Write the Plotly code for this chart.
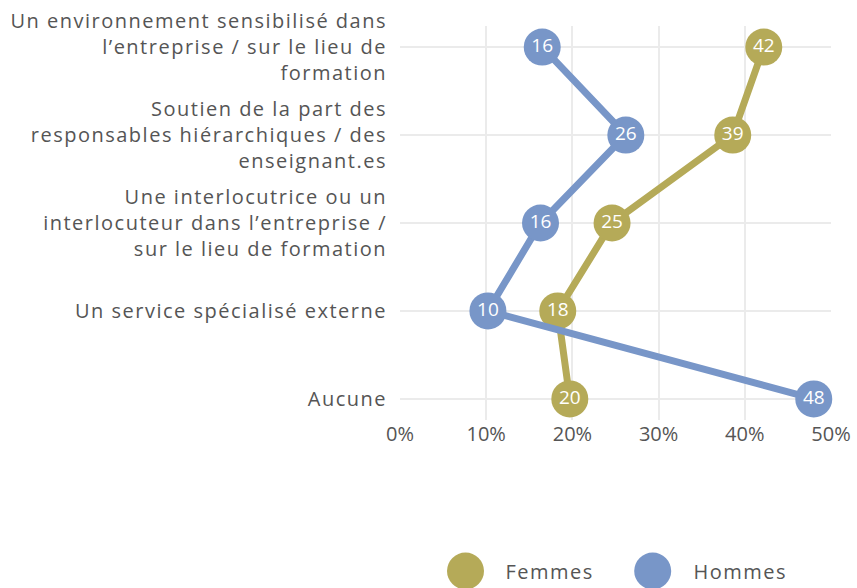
import plotly.graph_objects as go

categories = [
    "Un environnement sensibilisé dans<br>l’entreprise / sur le lieu de<br>formation",
    "Soutien de la part des<br>responsables hiérarchiques / des<br>enseignant.es",
    "Une interlocutrice ou un<br>interlocuteur dans l’entreprise /<br>sur le lieu de formation",
    "Un service spécialisé externe",
    "Aucune",
]
femmes = [42.2, 38.6, 24.6, 18.3, 19.7]
hommes = [16.5, 26.2, 16.3, 10.2, 48.0]
series_names = ["Femmes", "Hommes"]
colors = ["#b5aa58", "#7896c8"]
x_ticks = [0, 10, 20, 30, 40, 50]
x_ticklabels = ["0%", "10%", "20%", "30%", "40%", "50%"]

FONT = "Open Sans, sans-serif"
W, H = 857, 588
ML, MR, MT = 400, 26, 26
PH = 394
MB = H - MT - PH

fig = go.Figure()
for name, vals, col in zip(series_names, [femmes, hommes], colors):
    fig.add_trace(go.Scatter(
        x=vals, y=categories, name=name,
        mode="lines+markers+text",
        line=dict(color=col, width=7),
        marker=dict(color=col, size=37, line=dict(width=0)),
        text=[f"{round(v)}" for v in vals],
        textposition="middle center",
        textfont=dict(color="white", size=19, family=FONT),
        showlegend=False,
        cliponaxis=False,
    ))

fig.update_layout(
    width=W, height=H,
    margin=dict(l=ML, r=MR, t=MT, b=MB, autoexpand=False),
    paper_bgcolor="white", plot_bgcolor="white",
    font=dict(family=FONT, size=20, color="#555555"),
    showlegend=False,
)
fig.update_xaxes(
    range=[0, 50], tickvals=x_ticks, ticktext=x_ticklabels,
    showgrid=True, gridcolor="#ebebeb", gridwidth=1.5,
    zeroline=False, showline=False, ticks="", automargin=False,
    tickfont=dict(size=20, color="#555555"),
)
fig.update_yaxes(
    categoryorder="array", categoryarray=categories,
    range=[4.24, -0.24],
    showgrid=True, gridcolor="#ebebeb", gridwidth=1.5,
    zeroline=False, showline=False, ticks="", ticklabelstandoff=12,
    automargin=False,
    tickfont=dict(size=20, color="#555555"),
)

# custom legend (large circles), positions given in page pixels
plot_w = W - ML - MR
def px_x(x):
    return (x - ML) / plot_w
def px_y(y):
    return 1 - (y - MT) / PH
legend_y = px_y(571)
for name, col, cx, tx in zip(series_names, colors, [465.5, 652.7], [508, 696]):
    r = 18.5
    fig.add_shape(type="circle", xref="paper", yref="paper",
                  x0=px_x(cx - r), x1=px_x(cx + r),
                  y0=legend_y - r / PH, y1=legend_y + r / PH,
                  fillcolor=col, line=dict(width=0), layer="above")
    fig.add_annotation(x=px_x(tx), y=legend_y, xref="paper", yref="paper",
                       text=name, showarrow=False, xanchor="left", yanchor="middle",
                       font=dict(size=20, color="#555555", family=FONT))

css = ("var s=document.createElement('style');"
       "s.textContent='html,body{margin:0;padding:0;overflow:hidden;}"
       " g.ytick text, g.annotation-text-g text{letter-spacing:1.5px;}';"
       "document.head.appendChild(s);")
fig.write_html("out.html", post_script=css, config={"displayModeBar": False})
